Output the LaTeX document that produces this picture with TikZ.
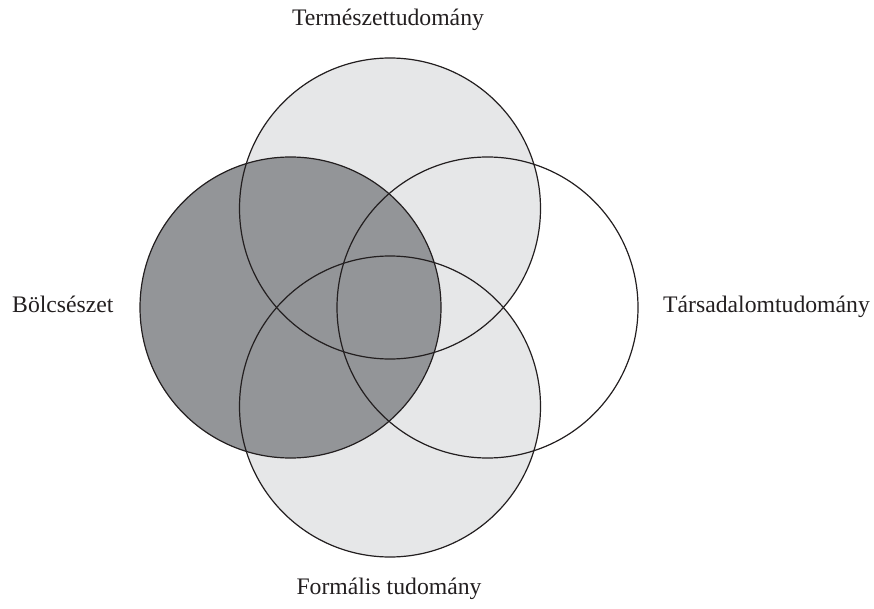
\documentclass[tikz,border=0pt]{standalone}
\usepackage{fontspec}
\setmainfont{Liberation Serif}
\definecolor{lightfill}{HTML}{E6E7E8}
\definecolor{darkfill}{HTML}{939598}
\definecolor{edge}{HTML}{231F20}
\begin{document}
\begin{tikzpicture}[x=1pt,y=-1pt,
  ring/.style={circle,minimum size=301pt,inner sep=0pt,outer sep=0pt},
  outline/.style={ring,draw=edge,line width=1.2pt},
  label/.style={inner sep=0pt,font=\fontsize{23.7}{28}\selectfont,text=edge}]
\useasboundingbox (0,0) rectangle (874,609);
% fills
\node[ring,fill=lightfill] (topfill) at (390,208.5) {};
\node[ring,fill=lightfill] (botfill) at (390,406.5) {};
\node[ring,fill=darkfill] (leftfill) at (290.5,307.5) {};
% outlines
\node[outline] (top) at (390,208.5) {};
\node[outline] (bot) at (390,406.5) {};
\node[outline] (left) at (290.5,307.5) {};
\node[outline] (right) at (487.5,307.5) {};
% labels
\node[label,anchor=base] (ltop) at (388,26) {Természettudomány};
\node[label,anchor=base] (lbot) at (389,594) {Formális tudomány};
\node[label,anchor=base west] (lleft) at (12,312) {Bölcsészet};
\node[label,anchor=base west] (lright) at (663,312) {Társadalomtudomány};
\end{tikzpicture}
\end{document}
